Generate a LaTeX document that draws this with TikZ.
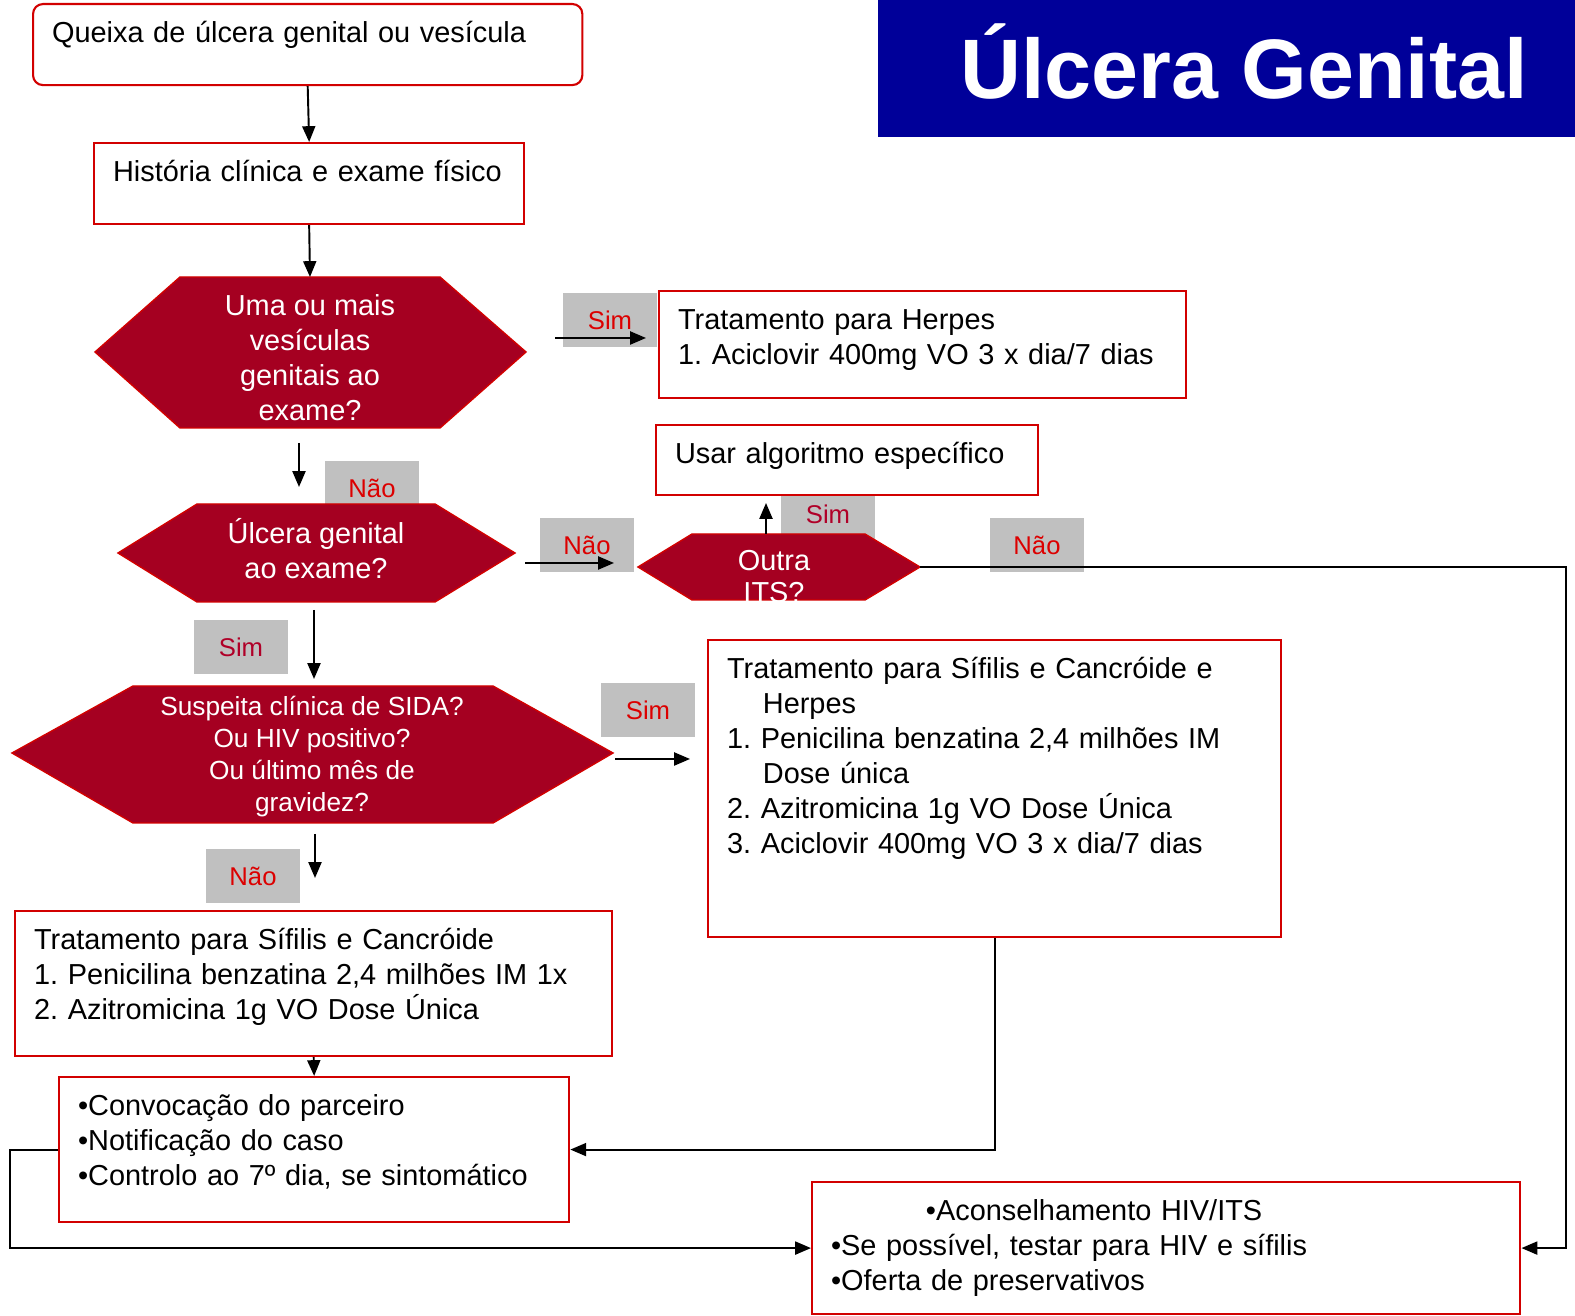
\documentclass[tikz,border=0pt]{standalone}
\usepackage{fontspec}
\setmainfont{Liberation Sans}
\frenchspacing
\usetikzlibrary{arrows.meta}
\definecolor{boxred}{RGB}{210,0,0}
\definecolor{hexred}{RGB}{165,0,33}
\definecolor{lblred}{RGB}{220,0,0}
\definecolor{lblcrim}{RGB}{176,0,40}
\definecolor{tagbg}{RGB}{192,192,192}
\definecolor{titleblue}{RGB}{0,0,153}
\begin{document}
\begin{tikzpicture}[x=0.01cm,y=-0.01cm,
  font=\fontsize{8.22}{9.96}\selectfont,
  txtbox/.style={draw=boxred,fill=white,line width=0.6pt,anchor=north west,align=left,
    inner xsep=5.4pt,inner ysep=4.85pt,text height=6pt},
  hexfill/.style={fill=hexred,draw=boxred,line width=0.4pt},
  hextext/.style={text=white,align=center,inner sep=0pt},
  tag/.style={fill=tagbg,text=lblred,font=\fontsize{7.3}{9}\selectfont,
    inner sep=0pt,minimum width=0.94cm,minimum height=0.54cm},
  arr/.style={draw,line width=0.55pt,-{Triangle[length=4.5pt,width=3.7pt]}},
]
\useasboundingbox (0,0) rectangle (1575,1316);

% title
\node[fill=titleblue,text=white,font=\fontsize{24}{28}\selectfont\bfseries,
  minimum width=6.97cm,minimum height=1.37cm,inner sep=0pt,
  text height=17.2pt,text depth=0pt] (title) at (1226.5,68.5)
  {\hspace*{10pt}Úlcera Genital};

% grey answer tags
\node[tag] (tSimA) at (610,320) {Sim};
\node[tag] (tNaoA) at (372,488) {Não};
\node[tag] (tNaoB) at (587,545) {Não};
\node[tag,text=lblcrim] (tSimB) at (828,514) {Sim};
\node[tag] (tNaoC) at (1037,545) {Não};
\node[tag,text=lblcrim] (tSimC) at (241,647) {Sim};
\node[tag] (tSimD) at (648,710) {Sim};
\node[tag] (tNaoD) at (253,876) {Não};

% boxes
\node[txtbox,rounded corners=2.8pt,text width=5.11cm,text depth=7.34pt] (queixa) at (32,3)
  {Queixa de úlcera genital ou vesícula};
\node[txtbox,text width=3.92cm,text depth=7.34pt] (hist) at (93,142)
  {História clínica e exame físico};
\node[txtbox,text width=4.89cm,text depth=14.74pt] (herpes) at (658,290)
  {Tratamento para Herpes\\ 1. Aciclovir 400mg VO 3 x dia/7 dias};
\node[txtbox,text width=3.44cm,text depth=4.22pt] (usar) at (655,424)
  {Usar algoritmo específico};
\node[txtbox,text width=5.35cm,text depth=68.8pt] (trio) at (707,639)
  {Tratamento para Sífilis e Cancróide e\\
   \hspace*{10.2pt}Herpes\\
   1. Penicilina benzatina 2,4 milhões IM\\
   \hspace*{10.2pt}Dose única\\
   2. Azitromicina 1g VO Dose Única\\
   3. Aciclovir 400mg VO 3 x dia/7 dias};
\node[txtbox,text width=5.59cm,text depth=25.55pt] (duo) at (14,910)
  {Tratamento para Sífilis e Cancróide\\
   1. Penicilina benzatina 2,4 milhões IM 1x\\
   2. Azitromicina 1g VO Dose Única};
\node[txtbox,text width=4.72cm,text depth=25.55pt] (conv) at (58,1076)
  {•Convocação do parceiro\\
   •Notificação do caso\\
   •Controlo ao 7º dia, se sintomático};
\node[txtbox,text width=6.70cm,text depth=21.85pt] (acons) at (811,1181)
  {\hspace*{27pt}•Aconselhamento HIV/ITS\\
   •Se possível, testar para HIV e sífilis\\
   •Oferta de preservativos};

% decision hexagons
\path[hexfill] (95,352) -- (180,277) -- (440,277) -- (526,352)
  -- (440,428) -- (180,428) -- cycle;
\node[hextext] (vesic) at (310,358) {Uma ou mais\\ vesículas\\ genitais ao\\ exame?};

\path[hexfill] (118,553) -- (197,504) -- (435,504) -- (515,553)
  -- (435,602) -- (197,602) -- cycle;
\node[hextext] (ulcera) at (316,549) {Úlcera genital\\ ao exame?};

\path[hexfill] (638,567) -- (692,534) -- (865,534) -- (920,567)
  -- (865,600) -- (692,600) -- cycle;
\node[hextext,font=\fontsize{8.22}{9.1}\selectfont] (outra) at (774,577) {Outra\\ ITS?};

\path[hexfill] (12,753) -- (133,686) -- (493,686) -- (613,753)
  -- (493,823) -- (133,823) -- cycle;
\node[hextext,font=\fontsize{7.46}{9.1}\selectfont] (sida) at (312,757)
  {Suspeita clínica de SIDA?\\ Ou HIV positivo?\\ Ou último mês de\\ gravidez?};

% loose arrow ends
\coordinate (h1n) at (310,277);
\coordinate (h3n) at (766,534);
\coordinate (h3e) at (920,567);
\coordinate (s1) at (555,338);  \coordinate (e1) at (646,338);
\coordinate (s2) at (299,443);  \coordinate (e2) at (299,487);
\coordinate (s3) at (525,563);  \coordinate (e3) at (614,563);
\coordinate (e4) at (766,503);
\coordinate (s5) at (314,610);  \coordinate (e5) at (314,679);
\coordinate (s6) at (615,759);  \coordinate (e6) at (690,759);
\coordinate (s7) at (315,834);  \coordinate (e7) at (315,878);

% connectors
\path[arr] (queixa.south) -- (hist.north);
\path[arr] (hist.south) -- (h1n);
\path[arr] (s1) -- (e1);
\path[arr] (s2) -- (e2);
\path[arr] (s3) -- (e3);
\path[arr] (h3n) -- (e4);
\path[arr] (s5) -- (e5);
\path[arr] (s6) -- (e6);
\path[arr] (s7) -- (e7);
\path[arr] (duo.south) -- (conv.north);
\path[arr] (h3e) -- (1566,567) |- (acons.east);
\path[arr] (trio.south) |- (conv.east);
\path[arr] (conv.west) -- ++(-48,0) |- (acons.west);
\end{tikzpicture}
\end{document}
